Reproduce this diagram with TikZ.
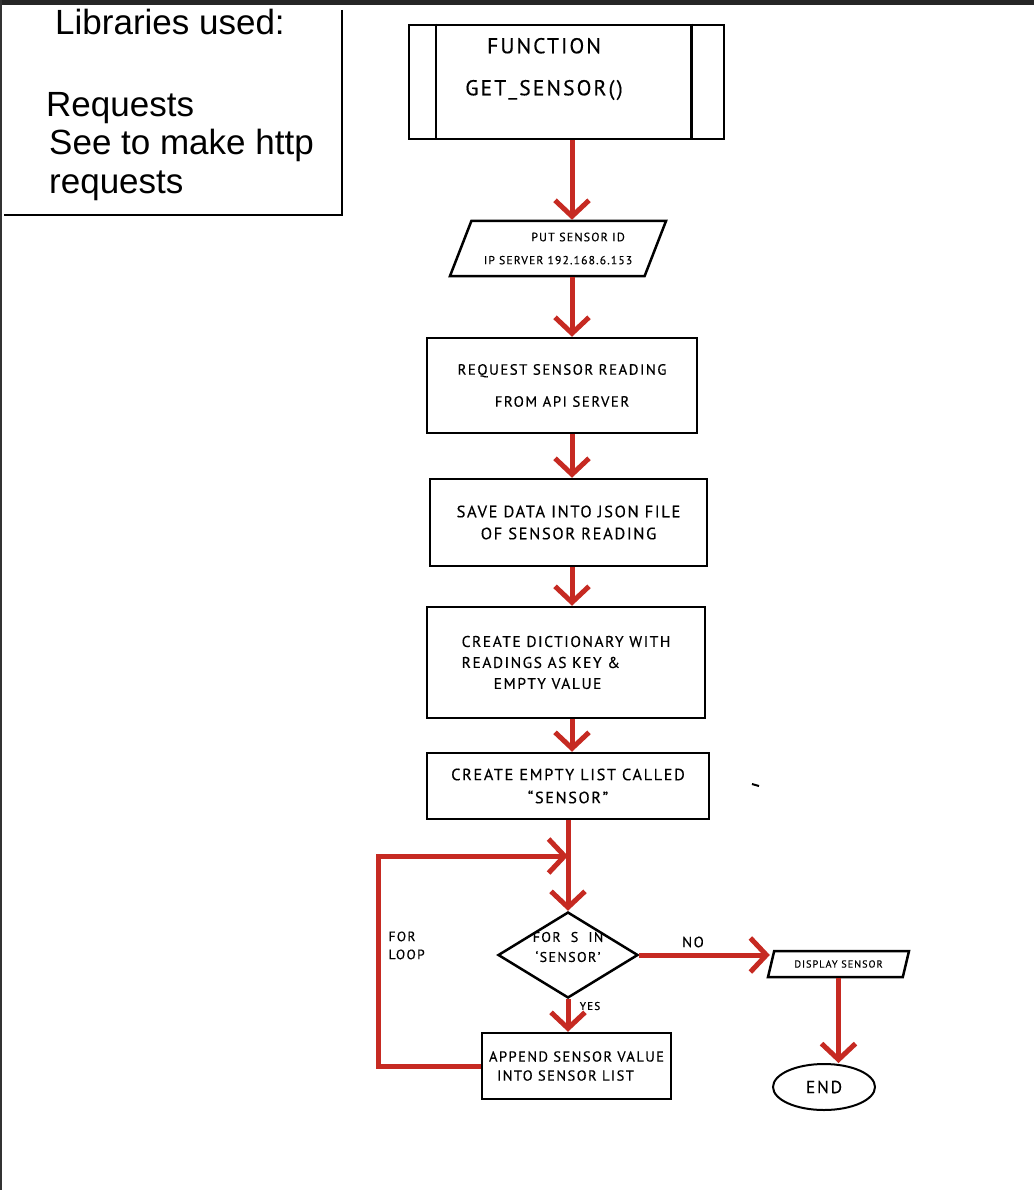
\documentclass[tikz,border=0pt]{standalone}
\usepackage{fontspec}
\setmainfont{Liberation Sans}
\newfontfamily\handfont[LetterSpace=10, FakeBold=0.4]{PT Sans}
\usetikzlibrary{shapes.geometric,arrows.meta}
\definecolor{flowred}{RGB}{198,42,34}

\begin{document}
\begin{tikzpicture}[x=1pt, y=-1pt,
		box/.style={rectangle, draw, line width=2.5pt, inner sep=0pt},
		io/.style={trapezium, draw, line width=2.5pt, inner sep=0pt, trapezium stretches body=true},
		hand/.style 2 args={font=\handfont\fontsize{#1}{#2}\selectfont, align=center},
		lib/.style={font=\fontsize{35}{40}\selectfont, inner sep=0pt},
		flow/.style={draw=flowred, line width=5pt, -{Straight Barb[length=16pt,width=34pt]}}
		]
	\useasboundingbox (0,0) rectangle (1034,1190);
	\fill[black!85] (0,0) rectangle (1034,5);
	\fill[black!80] (0,0) rectangle (2,1190);

	% libraries box
	\draw[line width=2.5pt] (342,10) -- (342,215) -- (4,215);
	\node[lib] (libtitle) at (170,22) {Libraries used:};
	\node[lib, anchor=west] (libreq) at (46,108) {Requests};
	\node[lib, anchor=west] (libsee) at (49,145) {See to make http};
	\node[lib, anchor=west] (libhttp) at (49,186) {requests};

	% main flow
	\coordinate (spine) at (572,0);
	\node [box, minimum width=315, minimum height=114] (fn) at (566.5,82) {};
	\draw[line width=2.5pt] ([xshift=28pt]fn.north west) -- ([xshift=28pt]fn.south west);
	\draw[line width=2.5pt] ([xshift=-34pt]fn.north east) -- ([xshift=-34pt]fn.south east);
	\node [hand={21.5}{42}] (fntext) at (544,69) {FUNCTION\\GET\_SENSOR()};

	\node [io, trapezium left angle=56, trapezium right angle=124, minimum width=216, minimum height=55, hand={11.6}{23}] (put) at (558,248.5)
		{\hspace{40pt}{\fontsize{12}{23}\selectfont PUT SENSOR ID}\\IP SERVER 192.168.6.153};
	\node [box, minimum width=270, minimum height=95, hand={14.9}{32}] (req) at (562,385.5)
		{REQUEST SENSOR READING\\FROM API SERVER};
	\node [box, minimum width=277, minimum height=87, hand={16.5}{22}] (save) at (568.5,522.5)
		{SAVE DATA INTO JSON FILE\\OF SENSOR READING};
	\node [box, minimum width=278, minimum height=111, hand={15.5}{21}, align=left] (dict) at (566,662.5)
		{CREATE DICTIONARY WITH\\READINGS AS KEY \&\\\hspace{32pt}EMPTY VALUE};
	\node [box, minimum width=282, minimum height=66, hand={16.3}{23}] (list) at (568,786)
		{CREATE EMPTY LIST CALLED\\“SENSOR”};
	\draw[line width=2pt] (752,784) -- (759,786);

	\node [diamond, draw, line width=2.5pt, inner sep=0pt, minimum width=140, minimum height=86] (dia) at (568,955) {};
	\node [hand={14}{20}] (diatext) at (568,947) {FOR\hspace{5pt} S\hspace{5pt} IN\\‘SENSOR’};
	\node [box, minimum width=189, minimum height=66, hand={14.5}{19}, align=left] (app) at (576.5,1066)
		{APPEND SENSOR VALUE\\\hspace{8pt}INTO SENSOR LIST};

	\node [io, trapezium left angle=50, trapezium right angle=130, minimum width=141, minimum height=26, hand={10.2}{11}] (disp) at (838.5,964)
		{DISPLAY SENSOR};
	\node [ellipse, draw, line width=2pt, inner sep=0pt, minimum width=102, minimum height=46, hand={17.5}{19}] (end) at (824,1087) {END};

	% connectors
	\coordinate (merge) at (568,856);
	\draw[flow] (fn.south -| spine) -- (put.north -| spine);
	\draw[flow] (put.south -| spine) -- (req.north -| spine);
	\draw[flow] (req.south -| spine) -- (save.north -| spine);
	\draw[flow] (save.south -| spine) -- (dict.north -| spine);
	\draw[flow] (dict.south -| spine) -- (list.north -| spine);
	\draw[flow] (list.south -| dia.north) -- (dia.north);
	\draw[flow] (app.west) -- ++(-102,0) |- (merge);
	\draw[flow] (dia.south) -- (app.north -| dia.south);
	\draw[flow] (dia.east) -- (dia.east -| disp.west);
	\draw[flow] (disp.south) -- (end.north -| disp.south);

	\node [hand={13.5}{18}, align=left, anchor=north west] (forloop) at (385,928) {FOR\\LOOP};
	\node [hand={11.2}{12}] (yes) at (590,1006) {YES};
	\node [hand={14.8}{16}] (no) at (693,942) {NO};
\end{tikzpicture}
\end{document}
